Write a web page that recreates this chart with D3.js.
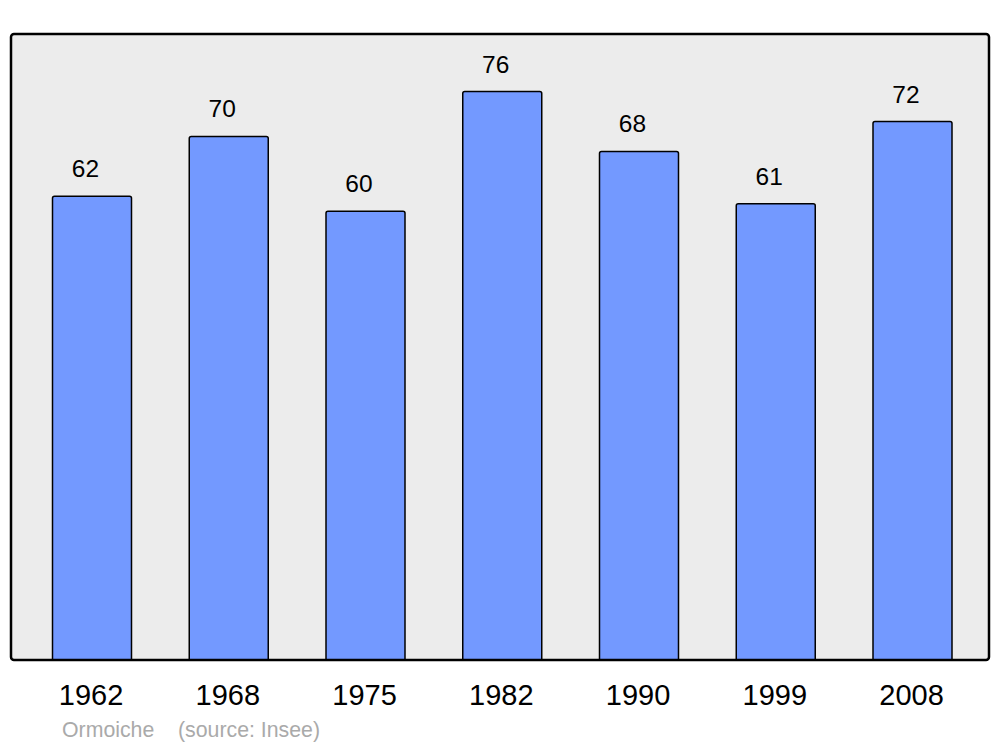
<!DOCTYPE html>
<html>
<head>
<meta charset="utf-8">
<script src="https://cdn.jsdelivr.net/npm/d3@7"></script>
<style>
  html, body { margin: 0; padding: 0; background: #fff; }
  svg { display: block; }
  text { font-family: "Liberation Sans", Arial, sans-serif; }
</style>
</head>
<body>
<script>
const years = ["1962", "1968", "1975", "1982", "1990", "1999", "2008"];
const population = [62, 70, 60, 76, 68, 61, 72];
const townName = "Ormoiche";
const sourceLabel = "(source: Insee)";

const W = 1000, H = 747;
const panel = { x0: 11, x1: 989, y0: 34, y1: 660 };

const svg = d3.select("body").append("svg").attr("width", W).attr("height", H);

svg.append("rect")
  .attr("x", panel.x0).attr("y", panel.y0)
  .attr("width", panel.x1 - panel.x0).attr("height", panel.y1 - panel.y0)
  .attr("rx", 3).attr("ry", 3)
  .attr("fill", "#ececec");

const x = d3.scalePoint().domain(years).range([92, 912.5]);
const barW = 79;
const y = d3.scaleLinear().domain([0, 83.7]).range([panel.y1, panel.y0]);

const data = years.map((yr, i) => ({ year: yr, value: population[i] }));

// bars with rounded top corners
function barPath(d) {
  const l = x(d.year) - barW / 2, r = l + barW, t = y(d.value), b = y(0), rr = 2;
  return `M${l},${b} L${l},${t + rr} Q${l},${t} ${l + rr},${t} L${r - rr},${t} Q${r},${t} ${r},${t + rr} L${r},${b} Z`;
}

svg.append("g").selectAll("path").data(data).join("path")
  .attr("d", barPath)
  .attr("fill", "#7399ff")
  .attr("stroke", "#000")
  .attr("stroke-width", 1.5);

svg.append("g").selectAll("text").data(data).join("text")
  .attr("x", d => x(d.year) - 6.5)
  .attr("y", d => y(d.value) - 19)
  .attr("text-anchor", "middle")
  .attr("font-size", 24.5)
  .attr("fill", "#000")
  .text(d => d.value);

// panel border on top
svg.append("rect")
  .attr("x", panel.x0).attr("y", panel.y0)
  .attr("width", panel.x1 - panel.x0).attr("height", panel.y1 - panel.y0)
  .attr("rx", 3).attr("ry", 3)
  .attr("fill", "none")
  .attr("stroke", "#000")
  .attr("stroke-width", 2.5);

// x axis labels
const xAxis = d3.axisBottom(x).tickSize(0).tickPadding(0);
const gx = svg.append("g").attr("transform", `translate(-1.5,${panel.y1 + 24})`).call(xAxis);
gx.select(".domain").remove();
gx.selectAll("text")
  .attr("font-size", 29)
  .attr("font-family", "\"Liberation Sans\", Arial, sans-serif")
  .attr("fill", "#000");

svg.append("text").attr("x", 62).attr("y", 737)
  .attr("font-size", 21.3).attr("fill", "#aaaaaa").text(townName);
svg.append("text").attr("x", 178).attr("y", 737)
  .attr("font-size", 21.3).attr("fill", "#aaaaaa").text(sourceLabel);
</script>
</body>
</html>
